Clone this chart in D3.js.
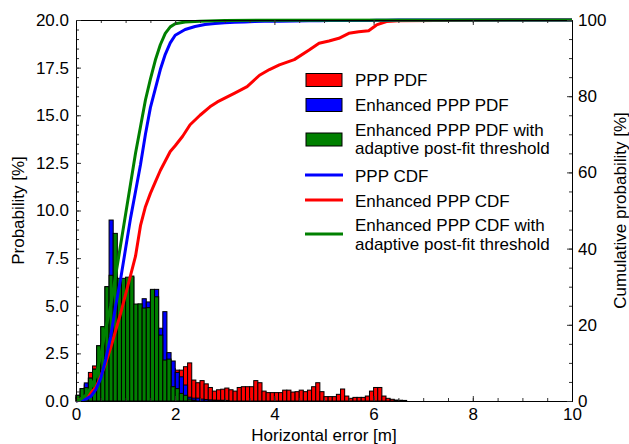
<!DOCTYPE html>
<html>
<head>
<meta charset="utf-8">
<script src="https://cdn.jsdelivr.net/npm/d3@7"></script>
<style>
  body { margin: 0; background: #fff; }
  text { font-family: "Liberation Sans", Arial, sans-serif; font-size: 17px; fill: #000; }
</style>
</head>
<body>
<svg id="chart" width="629" height="444"></svg>
<script>
// histogram bins are 1/12 m wide, starting at 0
var binWidth = 1 / 12;

// PDF values [%] per bin
var pppPdf = [0.2, 0.5, 0.85, 1.5, 1.84, 2.5, 3.0, 3.3, 3.6, 3.8, 3.9, 4.0, 4.0, 3.9, 3.7, 3.5,
    3.2, 3.0, 2.8, 2.6, 2.3, 2.0, 1.8, 1.7, 1.62, 1.62, 1.8, 2.0, 1.1, 0.96, 1.07, 0.9,
    0.71, 0.52, 0.59, 0.62, 0.68, 0.59, 0.52, 0.71, 0.75, 0.75, 0.75, 1.07, 0.96, 0.52, 0.44, 0.44,
    0.44, 0.44, 0.57, 0.57, 0.47, 0.49, 0.57, 0.49, 0.57, 0.75, 0.96, 0.49, 0.23, 0.23, 0.23, 0.35,
    0.63, 0.26, 0.14, 0.19, 0.19, 0.19, 0.26, 0.52, 0.71, 0.71, 0.26, 0.14, 0.09, 0.05, 0.04, 0.03];
var enhPdf = [0.3, 0.65, 0.95, 1.2, 1.67, 2.9, 3.9, 6.0, 9.5, 6.5, 6.2, 6.3, 6.4, 6.5, 5.0, 5.0,
    5.37, 5.2, 5.8, 5.86, 3.82, 4.69, 2.54, 2.1, 1.5, 1.27, 0.84, 0.2, 0.15, 0.15, 0.1, 0.08,
    0.06, 0.05, 0.04, 0.04, 0.03];
var adaptPdf = [0.3, 0.65, 0.7, 1.2, 1.67, 2.9, 3.9, 6.0, 6.6, 8.8, 6.44, 6.44, 6.5, 6.56, 5.09, 5.1,
    4.88, 4.9, 5.86, 5.47, 3.46, 2.15, 2.2, 0.75, 0.65, 0.4, 0.3, 0.1, 0.05];

// CDF curves [%], sampled along x [m]
var pppCdfX = [0, 0.2, 0.3, 0.4, 0.5, 0.6, 0.7, 0.8, 0.9, 1.0, 1.1, 1.2, 1.3, 1.4, 1.5, 1.6, 1.7,
    1.8, 1.9, 2.0, 2.2, 2.4, 2.6, 2.8, 3.0, 3.2, 3.4, 3.6, 3.8, 4.1, 4.4, 4.7, 4.9, 5.1, 5.3, 5.5,
    5.9, 6.06, 6.26, 6.5, 8, 10];
var pppCdfY = [0, 0.5, 1.2, 3, 6, 11, 17, 25, 32, 40, 48, 55, 62, 70, 77, 82, 87,
    91, 94, 96, 97.5, 98.3, 98.8, 99.1, 99.3, 99.4, 99.5, 99.6, 99.65, 99.7, 99.75, 99.8, 99.8, 99.85, 99.85, 99.9,
    99.9, 99.92, 99.95, 99.97, 99.99, 100];
var enhCdfX = [0, 0.2, 0.4, 0.5, 0.6, 0.7, 0.8, 0.9, 1.0, 1.1, 1.2, 1.3, 1.4, 1.5, 1.6, 1.7, 1.8,
    1.9, 2.0, 2.15, 2.3, 2.5, 2.7, 2.85, 3.0, 3.2, 3.45, 3.7, 3.9, 4.1, 4.4, 4.7, 4.9, 5.1, 5.3,
    5.5, 5.7, 5.9, 6.06, 6.26, 6.5, 8, 10];
var enhCdfY = [0, 1, 3.5, 6.5, 10, 14, 18.5, 23, 28, 33, 38, 46, 51, 54.5, 57.5, 60.5, 63,
    65.5, 67, 69.5, 72.5, 75, 77.2, 78.5, 79.5, 80.8, 82.5, 85.5, 87, 88.2, 89.6, 92.1, 93.9, 94.5, 95.2,
    96.5, 96.9, 97.2, 98.7, 99.6, 99.8, 99.95, 100];
var adaptCdfX = [0, 0.1, 0.2, 0.3, 0.4, 0.5, 0.6, 0.7, 0.8, 0.9, 1.0, 1.1, 1.2, 1.3, 1.4, 1.5, 1.6,
    1.7, 1.8, 1.9, 2.0, 2.2, 2.5, 3.0, 10];
var adaptCdfY = [0, 0.5, 1.5, 3.5, 6.5, 12, 19, 25, 33, 41, 49, 57, 65, 72, 79, 84.5, 89.5,
    93.5, 96.5, 98.2, 99, 99.5, 99.7, 99.9, 100];

// axis ticks
var xTicks = [0, 2, 4, 6, 8, 10];
var yTicks = [0, 2.5, 5, 7.5, 10, 12.5, 15, 17.5, 20];
var yRightTicks = [0, 20, 40, 60, 80, 100];

var pdfSeries = [
    {name: "PPP PDF", values: pppPdf, color: "#ff0000"},
    {name: "Enhanced PPP PDF", values: enhPdf, color: "#0000ff"},
    {name: ["Enhanced PPP PDF with", "adaptive post-fit threshold"], values: adaptPdf, color: "#008000"}
];
var cdfSeries = [
    {name: "Enhanced PPP CDF", xs: enhCdfX, ys: enhCdfY, color: "#ff0000"},
    {name: "PPP CDF", xs: pppCdfX, ys: pppCdfY, color: "#0000ff"},
    {name: ["Enhanced PPP CDF with", "adaptive post-fit threshold"], xs: adaptCdfX, ys: adaptCdfY, color: "#008000"}
];

// plot box in pixels (window.top is taken, hence the prefix)
var plotLeft = 76, plotRight = 572, plotTop = 20, plotBottom = 401;

var svg = d3.select("#chart");
var x = d3.scaleLinear().domain([0, 10]).range([plotLeft, plotRight]);
var y = d3.scaleLinear().domain([0, 20]).range([plotBottom, plotTop]);
var yR = d3.scaleLinear().domain([0, 100]).range([plotBottom, plotTop]);

//bars, drawn red first so green ends up on top
pdfSeries.forEach(function(s) {
    svg.append("g").selectAll("rect")
        .data(s.values)
        .enter()
        .filter(function(d) { return d > 0; })
        .append("rect")
        .attr("x", function(d, i) { return x(i * binWidth); })
        .attr("width", function(d, i) { return x((i + 1) * binWidth) - x(i * binWidth); })
        .attr("y", function(d) { return y(d); })
        .attr("height", function(d) { return y(0) - y(d); })
        .attr("fill", s.color)
        .attr("stroke", "#000")
        .attr("stroke-width", 1);
});

//cdf lines
cdfSeries.forEach(function(s) {
    var line = d3.line()
        .x(function(d, i) { return x(s.xs[i]); })
        .y(function(d) { return yR(d); });
    svg.append("path")
        .datum(s.ys)
        .attr("d", line)
        .attr("fill", "none")
        .attr("stroke", s.color)
        .attr("stroke-width", 3)
        .attr("stroke-linejoin", "round");
});

/* ---- AXES ----------------------------- */
function styleAxis(g) {
    g.selectAll("path").attr("stroke", "#000");
    g.selectAll("line").attr("stroke", "#333");
    g.selectAll("text").attr("font-family", null).attr("font-size", null).attr("fill", "#000");
}

function minor(step, max) {
    return d3.range(0, max + step / 2, step);
}

//minor ticks first, majors over them
svg.append("g").attr("transform", "translate(0," + plotBottom + ")")
    .call(d3.axisBottom(x).tickValues(minor(0.5, 10)).tickSize(-3).tickFormat("")).call(styleAxis);
svg.append("g").attr("transform", "translate(0," + plotTop + ")")
    .call(d3.axisTop(x).tickValues(minor(0.5, 10)).tickSize(-3).tickFormat("")).call(styleAxis);
svg.append("g").attr("transform", "translate(" + plotLeft + ",0)")
    .call(d3.axisLeft(y).tickValues(minor(0.5, 20)).tickSize(-3).tickFormat("")).call(styleAxis);
svg.append("g").attr("transform", "translate(" + plotRight + ",0)")
    .call(d3.axisRight(yR).tickValues(minor(5, 100)).tickSize(-3).tickFormat("")).call(styleAxis);

svg.append("g").attr("transform", "translate(0," + plotBottom + ")")
    .call(d3.axisBottom(x).tickValues(xTicks).tickSize(-5).tickSizeOuter(0).tickPadding(7).tickFormat(d3.format("d")))
    .call(styleAxis);
svg.append("g").attr("transform", "translate(0," + plotTop + ")")
    .call(d3.axisTop(x).tickValues(xTicks).tickSize(-5).tickSizeOuter(0).tickFormat(""))
    .call(styleAxis);
svg.append("g").attr("transform", "translate(" + plotLeft + ",0)")
    .call(d3.axisLeft(y).tickValues(yTicks).tickSize(-5).tickSizeOuter(0).tickPadding(7).tickFormat(d3.format(".1f")))
    .call(styleAxis);
svg.append("g").attr("transform", "translate(" + plotRight + ",0)")
    .call(d3.axisRight(yR).tickValues(yRightTicks).tickSize(-5).tickSizeOuter(0).tickPadding(6).tickFormat(d3.format("d")))
    .call(styleAxis);

//titles
svg.append("text").attr("x", (plotLeft + plotRight) / 2).attr("y", 441)
    .attr("text-anchor", "middle").text("Horizontal error [m]");
svg.append("text").attr("transform", "translate(24," + (plotTop + plotBottom) / 2 + ") rotate(-90)")
    .attr("text-anchor", "middle").text("Probability [%]");
svg.append("text").attr("transform", "translate(626," + (plotTop + plotBottom) / 2 + ") rotate(-90)")
    .attr("text-anchor", "middle").text("Cumulative probability [%]");

/* ---- LEGEND ----------------------------- */
var legend = svg.append("g");
var legendItems = [
    {s: pdfSeries[0], kind: "patch", mark: 80, lines: [86]},
    {s: pdfSeries[1], kind: "patch", mark: 105, lines: [111]},
    {s: pdfSeries[2], kind: "patch", mark: 139.5, lines: [135.5, 154]},
    {s: cdfSeries[1], kind: "line", mark: 175, lines: [181.5]},
    {s: cdfSeries[0], kind: "line", mark: 200, lines: [207]},
    {s: cdfSeries[2], kind: "line", mark: 234, lines: [231, 250]}
];
legendItems.forEach(function(it) {
    if (it.kind == "patch") {
        legend.append("rect").attr("x", 306).attr("y", it.mark - 6.5)
            .attr("width", 36).attr("height", 13)
            .attr("fill", it.s.color).attr("stroke", "#000").attr("stroke-width", 1);
    } else {
        legend.append("line").attr("x1", 305).attr("x2", 343)
            .attr("y1", it.mark).attr("y2", it.mark)
            .attr("stroke", it.s.color).attr("stroke-width", 3);
    }
    var names = [].concat(it.s.name);
    names.forEach(function(n, i) {
        legend.append("text").attr("x", 355).attr("y", it.lines[i]).text(n);
    });
});
</script>
</body>
</html>
